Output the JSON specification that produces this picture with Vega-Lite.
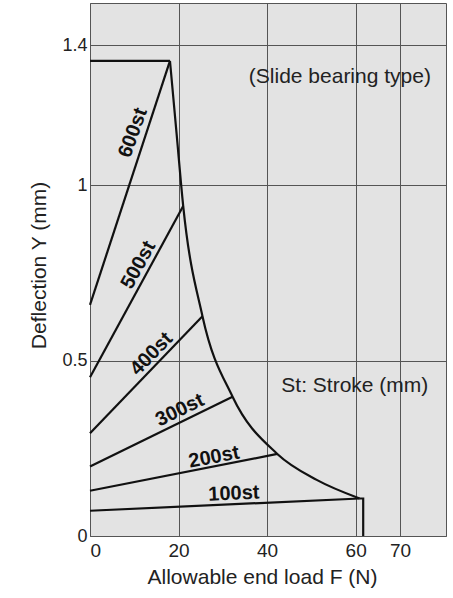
{
  "$schema": "https://vega.github.io/schema/vega-lite/v6.json",
  "autosize": "none",
  "width": 356,
  "height": 533,
  "padding": {"left": 90, "top": 3, "right": 7, "bottom": 62},
  "background": "white",
  "config": {
    "font": "Liberation Sans",
    "view": {"fill": "#e3e3e3", "stroke": "#555555", "strokeWidth": 1},
    "axis": {
      "grid": true,
      "gridColor": "#555555",
      "gridOpacity": 1,
      "gridWidth": 1,
      "ticks": false,
      "domain": false,
      "labelColor": "#222222",
      "titleColor": "#222222",
      "titleFontWeight": "normal",
      "titleFontSize": 21,
      "labelFontSize": 19
    }
  },
  "datasets": {
    "lines": [
      {"series": "600st", "i": 0, "x": 0, "y": 0.659},
      {"series": "600st", "i": 1, "x": 18.06, "y": 1.355},
      {"series": "500st", "i": 0, "x": 0, "y": 0.4525},
      {"series": "500st", "i": 1, "x": 21.05, "y": 0.941},
      {"series": "400st", "i": 0, "x": 0, "y": 0.293},
      {"series": "400st", "i": 1, "x": 25.4, "y": 0.627},
      {"series": "300st", "i": 0, "x": 0, "y": 0.198},
      {"series": "300st", "i": 1, "x": 32.2, "y": 0.397},
      {"series": "200st", "i": 0, "x": 0, "y": 0.129},
      {"series": "200st", "i": 1, "x": 42.3, "y": 0.234},
      {"series": "100st", "i": 0, "x": 0, "y": 0.072},
      {"series": "100st", "i": 1, "x": 60.9, "y": 0.107},
      {"series": "cap", "i": 0, "x": 0, "y": 1.355},
      {"series": "cap", "i": 1, "x": 18.06, "y": 1.355},
      {"series": "end", "i": 0, "x": 60.9, "y": 0.107},
      {"series": "end", "i": 1, "x": 61.7, "y": 0.107},
      {"series": "end", "i": 2, "x": 61.7, "y": 0}
    ],
    "curve": [
      {"x": 18.06, "y": 1.355},
      {"x": 19.55, "y": 1.148},
      {"x": 21.05, "y": 0.941},
      {"x": 25.4, "y": 0.627},
      {"x": 32.2, "y": 0.397},
      {"x": 42.3, "y": 0.234},
      {"x": 51.2, "y": 0.16},
      {"x": 60.9, "y": 0.107}
    ],
    "labels": [
      {"label": "600st", "x": 9.71, "y": 1.15},
      {"label": "500st", "x": 10.95, "y": 0.773},
      {"label": "400st", "x": 13.88, "y": 0.519},
      {"label": "300st", "x": 20.3, "y": 0.359},
      {"label": "200st", "x": 28.0, "y": 0.225},
      {"label": "100st", "x": 32.5, "y": 0.121}
    ],
    "notes": [
      {"note": "(Slide bearing type)", "x": 56.43, "y": 1.291},
      {"note": "St: Stroke (mm)", "x": 59.8, "y": 0.412}
    ]
  },
  "layer": [
    {
      "data": {"name": "lines"},
      "mark": {"type": "line", "color": "#111111", "strokeWidth": 2.2},
      "encoding": {
        "x": {
          "field": "x", "type": "quantitative",
          "title": "Allowable end load F (N)",
          "scale": {"domain": [0, 80.4], "nice": false, "zero": false},
          "axis": {
            "values": [0, 20, 40, 60, 70],
            "format": "d",
            "labelPadding": 5,
            "labelFlush": true,
            "titleX": 172,
            "titleY": 47,
            "titleBaseline": "alphabetic",
            "titleAlign": "center"
          }
        },
        "y": {
          "field": "y", "type": "quantitative",
          "title": "Deflection Y (mm)",
          "scale": {"domain": [0, 1.52], "nice": false, "zero": false},
          "axis": {
            "values": [0, 0.5, 1, 1.4],
            "format": "~g",
            "labelPadding": 3,
            "labelFontSize": 18,
            "titleX": -45,
            "titleY": 262,
            "titleBaseline": "alphabetic",
            "titleAlign": "center",
            "titleAngle": -90
          }
        },
        "detail": {"field": "series"},
        "order": {"field": "i"}
      }
    },
    {
      "data": {"name": "curve"},
      "mark": {"type": "line", "color": "#111111", "strokeWidth": 2.2, "interpolate": "monotone"},
      "encoding": {
        "x": {"field": "x", "type": "quantitative", "title": "Allowable end load F (N)"},
        "y": {"field": "y", "type": "quantitative", "title": "Deflection Y (mm)"}
      }
    },
    {
      "data": {"name": "labels"},
      "transform": [{"filter": "datum.label === '600st'"}],
      "mark": {"type": "text", "angle": 290, "fontSize": 20, "fontWeight": "bold", "color": "#111111", "align": "center", "baseline": "middle"},
      "encoding": {
        "x": {"field": "x", "type": "quantitative", "title": "Allowable end load F (N)"},
        "y": {"field": "y", "type": "quantitative", "title": "Deflection Y (mm)"},
        "text": {"field": "label"}
      }
    },
    {
      "data": {"name": "labels"},
      "transform": [{"filter": "datum.label === '500st'"}],
      "mark": {"type": "text", "angle": 298.5, "fontSize": 20, "fontWeight": "bold", "color": "#111111", "align": "center", "baseline": "middle"},
      "encoding": {
        "x": {"field": "x", "type": "quantitative", "title": "Allowable end load F (N)"},
        "y": {"field": "y", "type": "quantitative", "title": "Deflection Y (mm)"},
        "text": {"field": "label"}
      }
    },
    {
      "data": {"name": "labels"},
      "transform": [{"filter": "datum.label === '400st'"}],
      "mark": {"type": "text", "angle": 314, "fontSize": 20, "fontWeight": "bold", "color": "#111111", "align": "center", "baseline": "middle"},
      "encoding": {
        "x": {"field": "x", "type": "quantitative", "title": "Allowable end load F (N)"},
        "y": {"field": "y", "type": "quantitative", "title": "Deflection Y (mm)"},
        "text": {"field": "label"}
      }
    },
    {
      "data": {"name": "labels"},
      "transform": [{"filter": "datum.label === '300st'"}],
      "mark": {"type": "text", "angle": 334, "fontSize": 20, "fontWeight": "bold", "color": "#111111", "align": "center", "baseline": "middle"},
      "encoding": {
        "x": {"field": "x", "type": "quantitative", "title": "Allowable end load F (N)"},
        "y": {"field": "y", "type": "quantitative", "title": "Deflection Y (mm)"},
        "text": {"field": "label"}
      }
    },
    {
      "data": {"name": "labels"},
      "transform": [{"filter": "datum.label === '200st'"}],
      "mark": {"type": "text", "angle": 349, "fontSize": 20, "fontWeight": "bold", "color": "#111111", "align": "center", "baseline": "middle"},
      "encoding": {
        "x": {"field": "x", "type": "quantitative", "title": "Allowable end load F (N)"},
        "y": {"field": "y", "type": "quantitative", "title": "Deflection Y (mm)"},
        "text": {"field": "label"}
      }
    },
    {
      "data": {"name": "labels"},
      "transform": [{"filter": "datum.label === '100st'"}],
      "mark": {"type": "text", "angle": 357.5, "fontSize": 20, "fontWeight": "bold", "color": "#111111", "align": "center", "baseline": "middle"},
      "encoding": {
        "x": {"field": "x", "type": "quantitative", "title": "Allowable end load F (N)"},
        "y": {"field": "y", "type": "quantitative", "title": "Deflection Y (mm)"},
        "text": {"field": "label"}
      }
    },
    {
      "data": {"name": "notes"},
      "mark": {"type": "text", "fontSize": 21, "color": "#222222", "align": "center", "baseline": "alphabetic"},
      "encoding": {
        "x": {"field": "x", "type": "quantitative", "title": "Allowable end load F (N)"},
        "y": {"field": "y", "type": "quantitative", "title": "Deflection Y (mm)"},
        "text": {"field": "note"}
      }
    }
  ]
}
